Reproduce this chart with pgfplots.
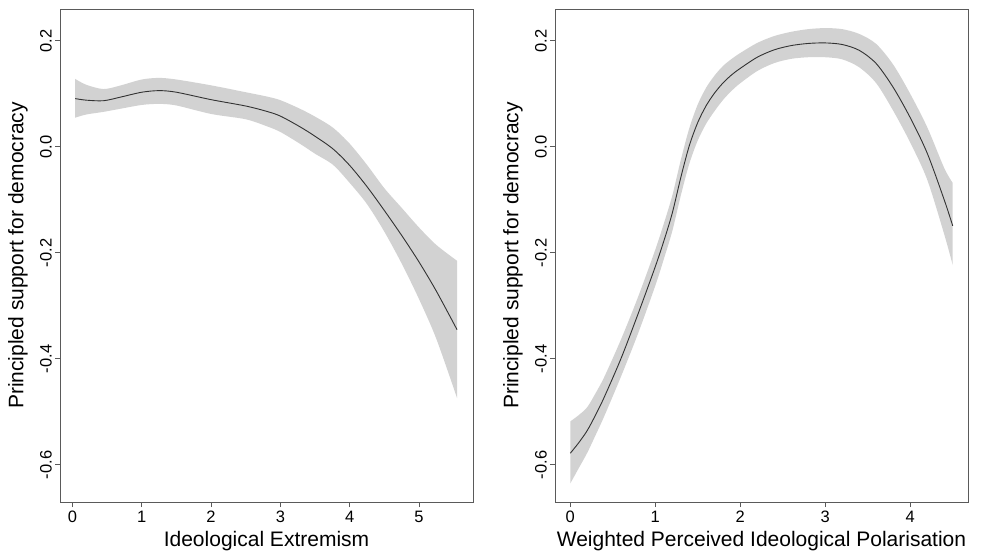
\documentclass[border=0pt]{standalone}
\usepackage{fontspec}
\setmainfont{Liberation Sans}
\usepackage{pgfplots}
\usepackage{pgfplotstable}
\pgfplotsset{compat=1.18}
\usepgfplotslibrary{fillbetween}

\definecolor{band}{RGB}{210,210,210}
\definecolor{curve}{RGB}{50,50,50}
\definecolor{frame}{RGB}{90,90,90}

% x, fitted value, upper and lower limit
\pgfplotstableread{
x     y       hi      lo
0.04  0.091   0.128   0.055
0.20  0.088   0.117   0.061
0.45  0.087   0.109   0.066
0.70  0.094   0.116   0.072
1.00  0.103   0.127   0.079
1.25  0.106   0.130   0.081
1.50  0.103   0.127   0.078
2.00  0.089   0.116   0.062
2.50  0.077   0.103   0.052
2.80  0.067   0.095   0.039
3.00  0.058   0.088   0.028
3.28  0.038   0.072   0.006
3.50  0.020   0.057  -0.013
3.76 -0.004   0.036  -0.034
4.00 -0.035   0.006  -0.068
4.25 -0.075  -0.034  -0.108
4.50 -0.120  -0.078  -0.160
4.75 -0.167  -0.115  -0.220
5.00 -0.217  -0.152  -0.287
5.25 -0.272  -0.185  -0.362
5.55 -0.345  -0.215  -0.474
}\extremism

\pgfplotstableread{
x     y       hi      lo
0.00 -0.578  -0.518  -0.635
0.10 -0.558  -0.506  -0.606
0.20 -0.535  -0.491  -0.577
0.30 -0.505  -0.464  -0.543
0.40 -0.472  -0.434  -0.508
0.60 -0.398  -0.362  -0.432
0.80 -0.314  -0.282  -0.351
1.00 -0.226  -0.194  -0.262
1.10 -0.178  -0.145  -0.212
1.20 -0.125  -0.092  -0.159
1.30 -0.058  -0.025  -0.092
1.40  0.002   0.035  -0.032
1.50  0.046   0.080   0.012
1.60  0.078   0.112   0.044
1.70  0.102   0.135   0.068
1.80  0.121   0.153   0.089
1.90  0.136   0.166   0.106
2.00  0.148   0.177   0.120
2.20  0.169   0.196   0.143
2.40  0.183   0.209   0.158
2.60  0.191   0.217   0.166
2.80  0.195   0.222   0.169
3.00  0.196   0.224   0.169
3.20  0.193   0.222   0.165
3.40  0.182   0.213   0.150
3.60  0.157   0.194   0.120
3.80  0.112   0.155   0.068
4.00  0.055   0.100   0.008
4.20 -0.012   0.037  -0.062
4.40 -0.100  -0.040  -0.165
4.50 -0.149  -0.068  -0.223
}\polarisation

\pgfplotsset{
  rpanel/.style={
    scale only axis,
    width=413pt, height=493pt,
    ymin=-0.67, ymax=0.26,
    axis line style={frame, line width=0.9pt},
    tick style={frame, line width=0.9pt},
    tick align=outside,
    major tick length=5pt,
    xtick pos=bottom, ytick pos=left,
    ytick={-0.6,-0.4,-0.2,0,0.2},
    yticklabels={-0.6,-0.4,-0.2,0.0,0.2},
    yticklabel style={rotate=90, anchor=south, inner sep=3pt},
    xticklabel style={inner sep=4pt},
    ticklabel style={font=\fontsize{16.5}{18}\selectfont},
    label style={font=\fontsize{21}{24}\selectfont},
    ylabel={Principled support for democracy},
    ylabel style={at={(axis description cs:-0.1017,0.5)}, anchor=center},
    xlabel style={at={(axis description cs:0.5,-0.0791)}, anchor=center},
  },
  band/.style={draw=none, smooth, forget plot},
}

\begin{document}
\begin{tikzpicture}
\begin{axis}[rpanel,
    xmin=-0.18, xmax=5.78,
    xtick={0,1,2,3,4,5},
    xticklabels={0,1,2,3,4,5},
    xlabel={Ideological Extremism},
]
\addplot[band, name path=hiA] table[x=x, y=hi] {\extremism};
\addplot[band, name path=loA] table[x=x, y=lo] {\extremism};
\addplot[fill=band, draw=none] fill between[of=hiA and loA];
\addplot[curve, line width=0.9pt, smooth] table[x=x, y=y] {\extremism};
\end{axis}

\begin{axis}[rpanel, at={(495pt,0pt)},
    xmin=-0.18, xmax=4.68,
    xtick={0,1,2,3,4},
    xticklabels={0,1,2,3,4},
    xlabel={Weighted Perceived Ideological Polarisation},
]
\addplot[band, name path=hiB] table[x=x, y=hi] {\polarisation};
\addplot[band, name path=loB] table[x=x, y=lo] {\polarisation};
\addplot[fill=band, draw=none] fill between[of=hiB and loB];
\addplot[curve, line width=0.9pt, smooth] table[x=x, y=y] {\polarisation};
\end{axis}

\pgfresetboundingbox
\path[use as bounding box] (-60pt,-49pt) rectangle (921pt,502pt);
\end{tikzpicture}
\end{document}
